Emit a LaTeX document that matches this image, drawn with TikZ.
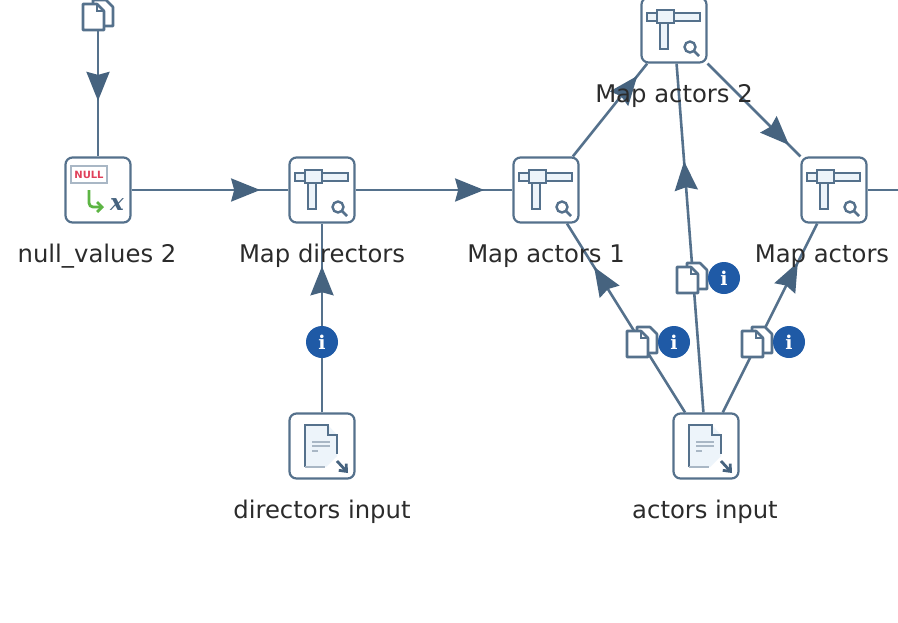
\documentclass[tikz,border=0pt]{standalone}
\usepackage{fontspec}
\setmainfont{DejaVu Sans}
\newfontfamily\infofont{DejaVu Serif}
\usepackage{xcolor}
\usetikzlibrary{arrows.meta,decorations.markings}
\definecolor{FlowSlate}{HTML}{46637F}
\definecolor{FlowLine}{HTML}{55718C}
\definecolor{FlowInk}{HTML}{2B2B2B}
\definecolor{FlowBlue}{HTML}{1F5AA6}
\definecolor{FlowPale}{HTML}{EDF4FA}
\definecolor{FlowRed}{HTML}{E0405A}
\definecolor{FlowGrey}{HTML}{A9B7C5}
\definecolor{FlowGreen}{HTML}{5DB544}
\tikzset{
  stepbox/.style={draw=FlowLine,line width=2.2pt,fill=white,rounded corners=7pt,minimum size=65pt,inner sep=0pt},
  steplabel/.style={text=FlowInk,font=\fontsize{24.3}{28}\selectfont,inner sep=0pt},
  hopline/.style={draw=FlowLine,line width=2.6pt},
  hop/.style={hopline,postaction={decorate},decoration={markings,
    mark=at position #1 with {\arrow[FlowSlate]{Stealth[length=29pt,width=23pt,inset=3pt]}}}},
  iconline/.style={draw=FlowLine,line width=2.4pt},
  sheet/.style={draw=FlowLine,line width=2.6pt,fill=white,line join=round},
}
\newcommand{\filestack}[2]{%
  \begin{scope}[shift={(#1,#2)}]
    \path[sheet] (-5,-15) -- (8,-15) -- (15,-8) -- (15,11) -- (-5,11) -- cycle;
    \path[sheet] (-15,-11) -- (-1,-11) -- (6,-4) -- (6,15) -- (-15,15) -- cycle;
    \draw[FlowLine,line width=1.6pt] (-1,-11) -- (-1,-4) -- (6,-4);
  \end{scope}}
\newcommand{\infobadge}[2]{%
  \fill[FlowBlue] (#1,#2) circle (16pt);
  \node[text=white,font=\infofont\bfseries\fontsize{19}{19}\selectfont,inner sep=0pt] (glyph#1) at (#1,#2) {i};}
\newcommand{\mapicon}[2]{%
  \begin{scope}[shift={(#1,#2)}]
    \path[iconline,fill=FlowPale] (-27,-17) rectangle (26,-9);
    \path[iconline,fill=FlowPale] (-14,-7) rectangle (-6,19);
    \path[iconline,fill=FlowPale] (-17,-20) rectangle (0,-7);
    \path[iconline] (16,17) circle (5.5pt);
    \draw[FlowLine,line width=2.8pt] (20,21) -- (25,26);
  \end{scope}}
\newcommand{\inputicon}[2]{%
  \begin{scope}[shift={(#1,#2)}]
    \fill[FlowPale] (-17,-21) -- (6,-21) -- (15,-11) -- (15,10) -- (4,21) -- (-17,21) -- cycle;
    \draw[FlowLine,line width=2.6pt] (-17,21) -- (-17,-21) -- (6,-21) -- (6,-11) -- (15,-11) -- (15,8);
    \draw[FlowGrey,line width=2.6pt] (-17,21) -- (3,21);
    \draw[FlowGrey,line width=2.2pt] (-10,-4) -- (8,-4) (-10,0) -- (8,0) (-10,5) -- (-4,5);
    \draw[FlowSlate,line width=2.8pt,-{Straight Barb[length=6pt,width=10pt]}] (15,15) -- (26,27);
  \end{scope}}
\begin{document}
\begin{tikzpicture}[x=1pt,y=-1pt]
  \useasboundingbox (0,0) rectangle (898,622);
  % steps
  \node[minimum size=30pt,inner sep=0pt] (sourcefile) at (98,15) {};
  \node[stepbox] (nullvalues) at (98,190) {};
  \node[stepbox] (mapdirectors) at (322,190) {};
  \node[stepbox] (mapactorsone) at (546,190) {};
  \node[stepbox] (mapactorstwo) at (674,30) {};
  \node[stepbox] (mapactors) at (834,190) {};
  \node[stepbox] (directorsinput) at (322,446) {};
  \node[stepbox] (actorsinput) at (706,446) {};
  \coordinate (exitright) at (910,190);
  % hops
  \draw[hop=0.56] (sourcefile) -- (nullvalues);
  \draw[hop=0.82] (nullvalues) -- (mapdirectors);
  \draw[hop=0.82] (mapdirectors) -- (mapactorsone);
  \draw[hop=0.87] (mapactorsone) -- (mapactorstwo);
  \draw[hop=0.88] (mapactorstwo) -- (mapactors);
  \draw[hop=0.774] (directorsinput) -- (mapdirectors);
  \draw[hop=0.77] (actorsinput) -- (mapactorsone);
  \draw[hop=0.72] (actorsinput) -- (mapactorstwo);
  \draw[hop=0.795] (actorsinput) -- (mapactors);
  \draw[hopline] (mapactors) -- (exitright);
  % icons
  \filestack{98}{15}
  \draw[FlowGrey,line width=2.4pt,fill=white] (71,166) rectangle (107,183);
  \node[text=FlowRed,font=\bfseries\fontsize{10}{10}\selectfont,inner sep=0pt] (nulltag) at (89,174.5) {NULL};
  \draw[FlowGreen,line width=2.8pt,rounded corners=4pt,-{Straight Barb[length=5pt,width=10pt]}] (89,190) -- (89,207) -- (104,207);
  \node[text=FlowSlate,font=\infofont\bfseries\itshape\fontsize{23}{23}\selectfont,inner sep=0pt] (xvar) at (117,205) {x};
  \foreach \ix/\iy in {322/190,546/190,674/30,834/190}{
    \mapicon{\ix}{\iy}
  }
  \inputicon{322}{446}
  \inputicon{706}{446}
  \infobadge{322}{342}
  \foreach \fx/\fy/\bx in {642/342/674,692/278/724,757/342/789}{
    \filestack{\fx}{\fy}
    \infobadge{\bx}{\fy}
  }
  % labels
  \node[steplabel] (nulllabel) at (97,256) {null\_values 2};
  \node[steplabel] (directorslabel) at (322,256) {Map directors};
  \node[steplabel] (actorsonelabel) at (546,256) {Map actors 1};
  \node[steplabel] (actorstwolabel) at (674,96) {Map actors 2};
  \node[steplabel] (actorslabel) at (822,256) {Map actors};
  \node[steplabel] (directorsinputlabel) at (322,512) {directors input};
  \node[steplabel] (actorsinputlabel) at (705,512) {actors input};
\end{tikzpicture}
\end{document}
